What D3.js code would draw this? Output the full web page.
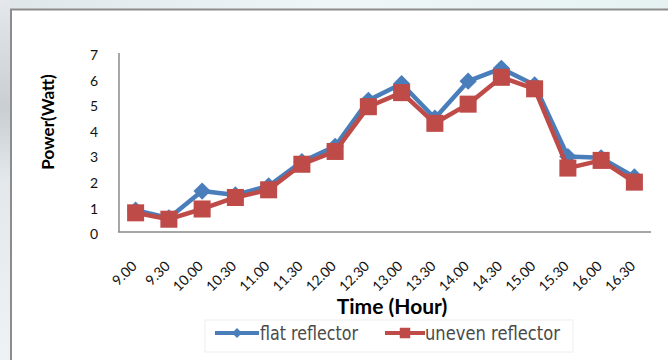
<!DOCTYPE html>
<html>
<head>
<meta charset="utf-8">
<script src="https://cdn.jsdelivr.net/npm/d3@7"></script>
<style>
html,body{margin:0;padding:0;background:#fff;}
svg{display:block;}
</style>
</head>
<body>
<svg id="chart" width="668" height="360"></svg>
<script>
const categories = ["9.00","9.30","10.00","10.30","11.00","11.30","12.00","12.30","13.00","13.30","14.00","14.30","15.00","15.30","16.00","16.30"];
const flatReflector = [0.85,0.55,1.6,1.45,1.8,2.75,3.35,5.15,5.8,4.45,5.9,6.4,5.75,2.95,2.9,2.15];
const unevenReflector = [0.75,0.5,0.9,1.35,1.65,2.65,3.15,4.9,5.45,4.25,5.0,6.05,5.6,2.5,2.8,1.95];
const yTicks = [0,1,2,3,4,5,6,7];
const seriesNames = ["flat reflector","uneven reflector"];

const svg = d3.select("#chart");

// background (blurred page behind the chart frame)
const defs = svg.append("defs");
const gTop = defs.append("linearGradient").attr("id","bgTop").attr("x1","0").attr("x2","1").attr("y1","0").attr("y2","0");
gTop.append("stop").attr("offset","0").attr("stop-color","#dfe6ea");
gTop.append("stop").attr("offset","0.5").attr("stop-color","#eef6f8");
gTop.append("stop").attr("offset","1").attr("stop-color","#e6f2f2");
const gLeft = defs.append("linearGradient").attr("id","bgLeft").attr("x1","0").attr("x2","0").attr("y1","0").attr("y2","1");
gLeft.append("stop").attr("offset","0").attr("stop-color","#e4e8ec");
gLeft.append("stop").attr("offset","0.3").attr("stop-color","#c9ced3");
gLeft.append("stop").attr("offset","0.5").attr("stop-color","#e3e8ec");
gLeft.append("stop").attr("offset","1").attr("stop-color","#eef2f5");
svg.append("rect").attr("x",0).attr("y",0).attr("width",668).attr("height",10).attr("fill","url(#bgTop)");
svg.append("rect").attr("x",0).attr("y",0).attr("width",11).attr("height",360).attr("fill","url(#bgLeft)");
// frame
svg.append("rect").attr("x",11).attr("y",9.5).attr("width",680).attr("height",400)
  .attr("fill","#fff").attr("stroke","#8c8c8c").attr("stroke-width",2);

const x = d3.scaleBand().domain(categories).range([119,651]);
const y = d3.scaleLinear().domain([0,7]).range([232,53]);

// axes lines
svg.append("line").attr("x1",119).attr("x2",119).attr("y1",y(7)).attr("y2",y(0)).attr("stroke","#8a8a8a").attr("stroke-width",1.5);
svg.append("line").attr("x1",118).attr("x2",651).attr("y1",y(0)).attr("y2",y(0)).attr("stroke","#8a8a8a").attr("stroke-width",1.5);

// y tick labels
const yAxis = d3.axisLeft(y).tickValues(yTicks).tickSize(0).tickPadding(0).tickFormat(d3.format("d"));
const yg = svg.append("g").attr("transform","translate(98,0)").call(yAxis);
yg.select(".domain").remove();
yg.selectAll("text").attr("font-family","Lato, 'Open Sans', sans-serif").attr("font-size",14).attr("fill","#111").attr("dy","0.55em").attr("y",-1);

// x tick labels
const xg = svg.append("g").attr("class","xticks");
xg.selectAll("text").data(categories).enter().append("text")
  .attr("transform", d => `translate(${x(d)+x.bandwidth()/2+2},267) rotate(-45)`)
  .attr("text-anchor","end")
  .attr("font-family","Lato, 'Open Sans', sans-serif").attr("font-size",14).attr("fill","#111")
  .text(d => d);

// titles
svg.append("text").attr("x",392).attr("y",314).attr("text-anchor","middle")
  .attr("font-family","Lato, 'Open Sans', sans-serif").attr("font-weight","bold").attr("font-size",21).attr("fill","#000")
  .text("Time (Hour)");
svg.append("text").attr("transform","translate(54,122) rotate(-90)").attr("text-anchor","middle")
  .attr("font-family","Lato, 'Open Sans', sans-serif").attr("font-weight","bold").attr("font-size",17).attr("fill","#000")
  .text("Power(Watt)");

const blue = "#4a7ebb", red = "#be4b48";
const line = d3.line().x((d,i) => x(categories[i]) + x.bandwidth()/2).y(d => y(d));

function drawSeries(vals, color, shape) {
  svg.append("path").datum(vals).attr("d", line).attr("fill","none")
    .attr("stroke", color).attr("stroke-width",4.5).attr("stroke-linejoin","round");
  svg.append("g").selectAll("path").data(vals).enter().append("path")
    .attr("d", d3.symbol().type(d3.symbolSquare).size(shape === "diamond" ? 150 : 290)())
    .attr("transform",(d,i) => `translate(${x(categories[i]) + x.bandwidth()/2},${y(d)})` + (shape==="diamond" ? " rotate(45)" : ""))
    .attr("fill", color);
}
drawSeries(flatReflector, blue, "diamond");
drawSeries(unevenReflector, red, "square");

// legend
const lg = svg.append("g");
lg.append("rect").attr("x",205).attr("y",320).attr("width",368).attr("height",32)
  .attr("fill","#fff").attr("stroke","#eeeeee").attr("stroke-width",1);
const legendItems = [
  {name: seriesNames[0], color: blue, shape: "diamond", x0: 215, x1: 259, tx: 260, tw: 98},
  {name: seriesNames[1], color: red, shape: "square", x0: 385, x1: 425, tx: 425, tw: 135}
];
legendItems.forEach(it => {
  lg.append("line").attr("x1",it.x0).attr("x2",it.x1).attr("y1",333).attr("y2",333).attr("stroke",it.color).attr("stroke-width",4);
  const cx = (it.x0+it.x1)/2;
  lg.append("path").attr("d", d3.symbol().type(d3.symbolSquare).size(it.shape==="diamond"?50:110)())
    .attr("transform", `translate(${cx},333)` + (it.shape==="diamond" ? " rotate(45)" : ""))
    .attr("fill", it.color);
  lg.append("text").attr("x", it.tx).attr("y", 340).attr("font-family","'DejaVu Sans',sans-serif")
    .attr("font-size",19).attr("fill","#4a4a4a")
    .attr("textLength", it.tw).attr("lengthAdjust","spacingAndGlyphs").text(it.name);
});
</script>
</body>
</html>
